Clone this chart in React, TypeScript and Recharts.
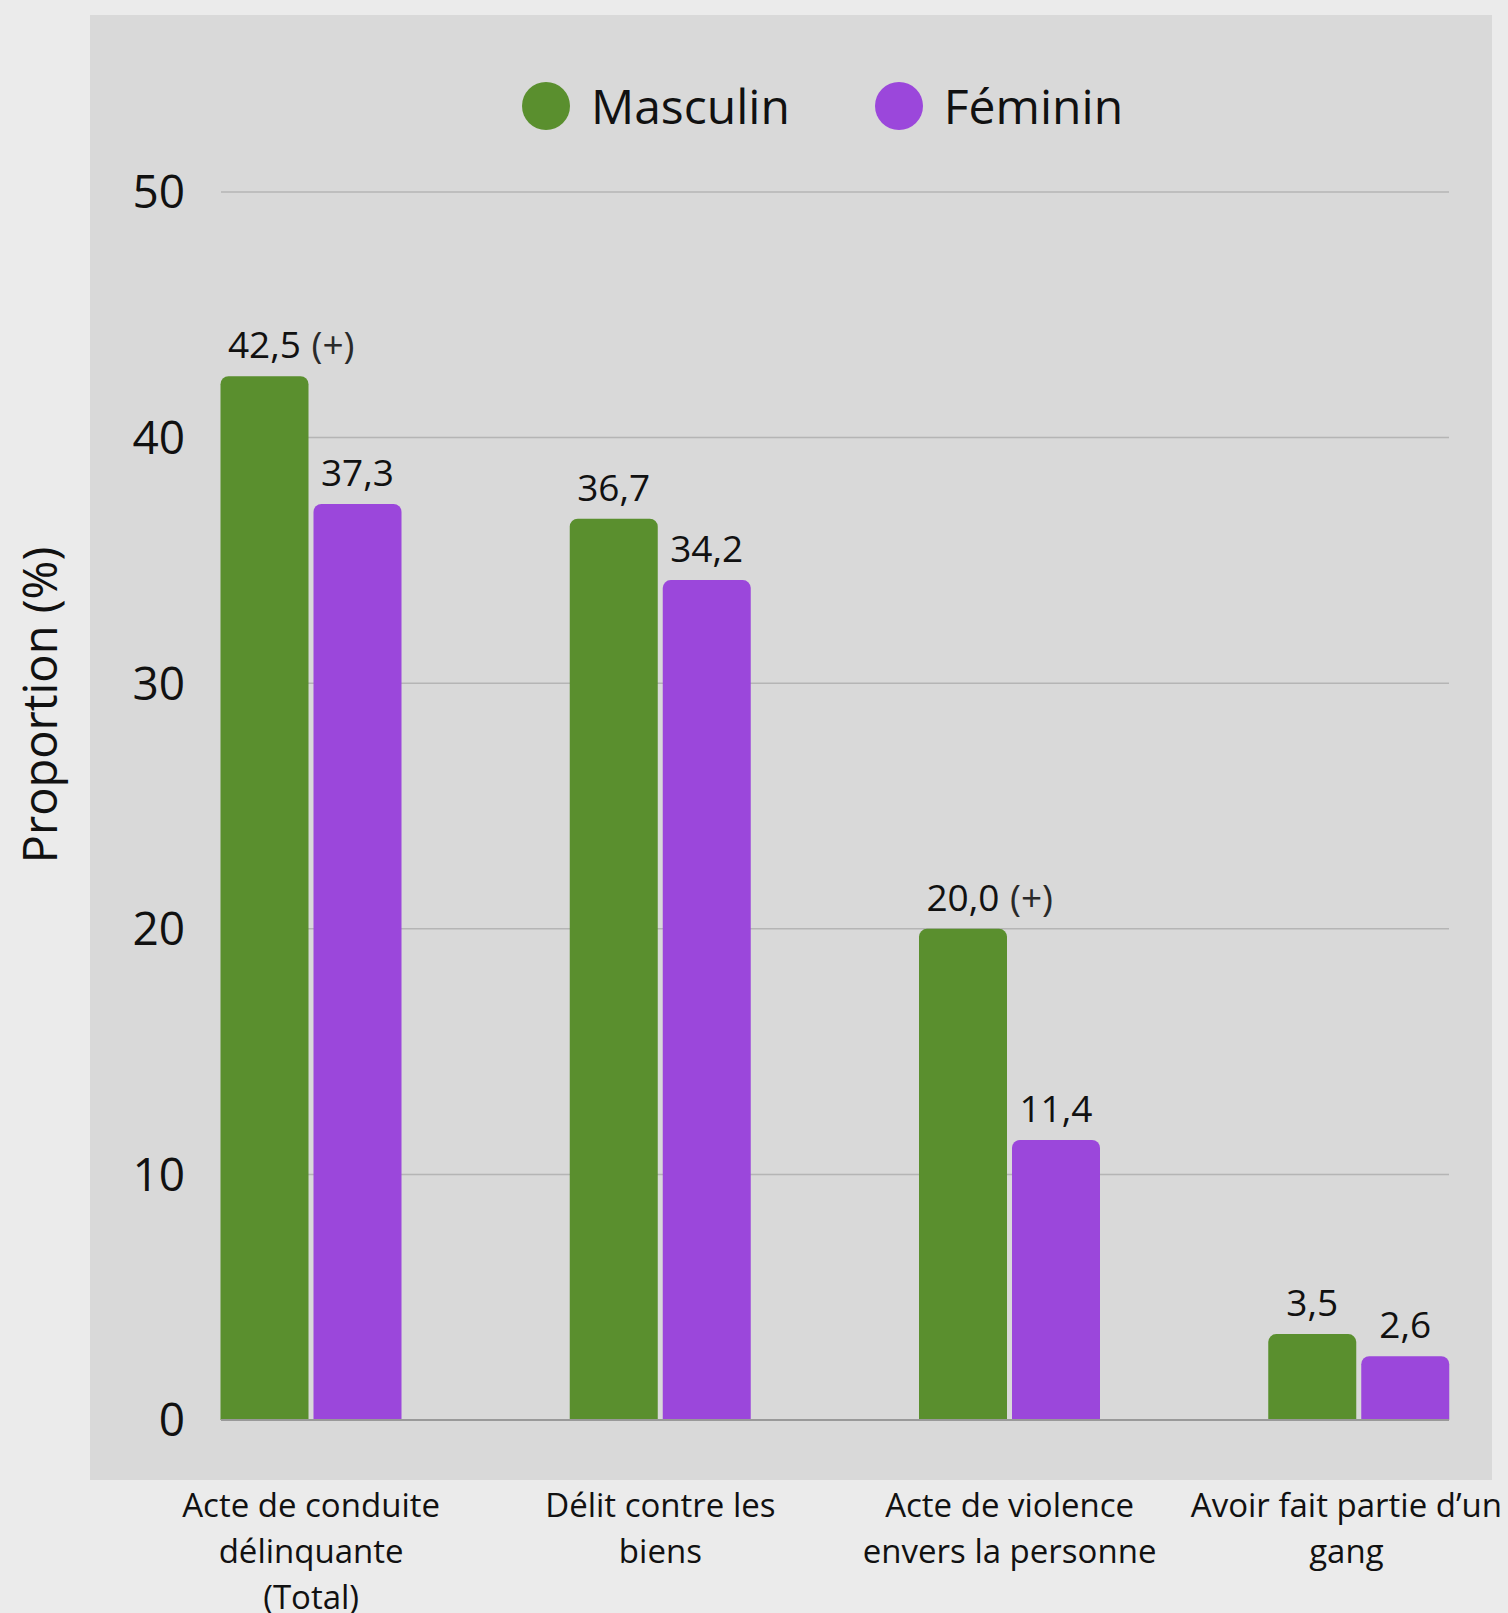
import { BarChart, Bar, XAxis, YAxis, CartesianGrid, LabelList } from 'recharts';

// categories and their wrapped tick lines
const categories = [
  'Acte de conduite délinquante (Total)',
  'Délit contre les biens',
  'Acte de violence envers la personne',
  'Avoir fait partie d’un gang',
];
const categoryLines = [
  ['Acte de conduite', 'délinquante', '(Total)'],
  ['Délit contre les', 'biens'],
  ['Acte de violence', 'envers la personne'],
  ['Avoir fait partie d’un', 'gang'],
];

const seriesNames = ['Masculin', 'Féminin'];
const masculin = [42.5, 36.7, 20.0, 3.5];
const feminin = [37.3, 34.2, 11.4, 2.6];
const masculinMarks = ['(+)', '', '(+)', ''];
const femininMarks = ['', '', '', ''];
const yTicks = [0, 10, 20, 30, 40, 50];

const GREEN = '#5a8f2e';
const PURPLE = '#9b47db';
const FONT = '"Open Sans", "Noto Sans", sans-serif';
const PAGE_W = 1508;
const TICK_FONT = 33;

const data = categories.map((category, i) => ({
  category,
  masculin: masculin[i],
  feminin: feminin[i],
}));

const fmt = (v: number) => v.toFixed(1).replace('.', ',');

let measureCtx: CanvasRenderingContext2D | null = null;
function textWidth(s: string, size: number) {
  if (!measureCtx) {
    measureCtx = document.createElement('canvas').getContext('2d');
  }
  if (!measureCtx) return s.length * size * 0.45;
  measureCtx.font = `${size}px "Open Sans"`;
  return measureCtx.measureText(s).width;
}

function makeValueLabel(marks: string[]) {
  return (props: any) => {
    const { x, y, width, value, index } = props;
    const cx = Number(x) + Number(width) / 2;
    const ty = Number(y) - 18;
    const mark = marks[index];
    return (
      <g>
        <text x={cx} y={ty} textAnchor="middle" fontSize={37} fill="#111" fontFamily={FONT}>
          {fmt(Number(value))}
        </text>
        {mark ? (
          <text x={cx + 47} y={ty} fontSize={37} fill="#2a2a2a" fontFamily={FONT}>
            {mark}
          </text>
        ) : null}
      </g>
    );
  };
}

function CategoryTick(props: any) {
  const { x, y, payload } = props;
  const lines: string[] = categoryLines[payload.index] || [payload.value];
  // keep the wrapped label inside the page
  const widest = Math.max(...lines.map((l) => textWidth(l, TICK_FONT)));
  const cx = Math.min(x, PAGE_W - 6 - widest / 2);
  return (
    <text x={cx} y={y} textAnchor="middle" fontSize={TICK_FONT} fill="#111" fontFamily={FONT}>
      {lines.map((line, i) => (
        <tspan key={i} x={cx} dy={i === 0 ? 95 : 46}>
          {line}
        </tspan>
      ))}
    </text>
  );
}

function YTitle() {
  return (
    <text
      x={39}
      y={705}
      transform="rotate(-90 39 705)"
      textAnchor="middle"
      dominantBaseline="central"
      fontSize={47}
      fill="#111"
      fontFamily={FONT}
    >
      Proportion (%)
    </text>
  );
}

export default function App() {
  const colors = [GREEN, PURPLE];
  return (
    <div
      style={{
        position: 'absolute',
        left: 0,
        top: 0,
        width: PAGE_W,
        height: 1613,
        background: '#ebebeb',
        fontFamily: FONT,
        overflow: 'hidden',
      }}
    >
      <div
        style={{
          position: 'absolute',
          left: 90,
          top: 15,
          width: 1402,
          height: 1465,
          background: '#d9d9d9',
        }}
      />
      <div
        style={{
          position: 'absolute',
          left: 522,
          top: 82,
          height: 48,
          display: 'flex',
          alignItems: 'center',
        }}
      >
        {seriesNames.map((name, i) => (
          <div key={name} style={{ display: 'flex', alignItems: 'center', marginRight: 85 }}>
            <span
              style={{
                display: 'inline-block',
                width: 48,
                height: 48,
                borderRadius: '50%',
                background: colors[i],
                marginRight: 21,
              }}
            />
            <span style={{ fontSize: 48, color: '#111', lineHeight: '48px' }}>{name}</span>
          </div>
        ))}
      </div>
      <div style={{ position: 'absolute', left: 0, top: 0 }}>
        <BarChart
          width={PAGE_W}
          height={1613}
          data={data}
          margin={{ top: 192, right: 59, left: 121, bottom: 43 }}
          barSize={88}
          barGap={5}
        >
          <CartesianGrid vertical={false} stroke="#b5b5b5" strokeWidth={1.5} />
          <XAxis
            dataKey="category"
            interval={0}
            tickLine={false}
            tickSize={0}
            axisLine={{ stroke: '#999', strokeWidth: 2 }}
            height={150}
            padding={{ left: -84.5, right: -84.5 }}
            tick={<CategoryTick />}
          />
          <YAxis
            domain={[0, 50]}
            ticks={yTicks}
            tickLine={false}
            axisLine={false}
            width={100}
            tickSize={0}
            tickMargin={36}
            tick={{ fontSize: 46, fill: '#111', fontFamily: FONT }}
            label={<YTitle />}
          />
          <Bar dataKey="masculin" name={seriesNames[0]} fill={GREEN} radius={[8, 8, 0, 0]} isAnimationActive={false}>
            <LabelList dataKey="masculin" content={makeValueLabel(masculinMarks)} />
          </Bar>
          <Bar dataKey="feminin" name={seriesNames[1]} fill={PURPLE} radius={[8, 8, 0, 0]} isAnimationActive={false}>
            <LabelList dataKey="feminin" content={makeValueLabel(femininMarks)} />
          </Bar>
        </BarChart>
      </div>
    </div>
  );
}
